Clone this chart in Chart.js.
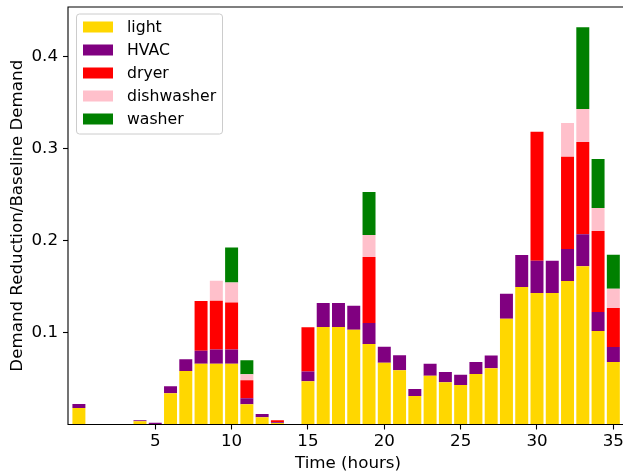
<!DOCTYPE html>
<html><head><meta charset="utf-8">
<script src="https://cdn.jsdelivr.net/npm/chart.js@4/dist/chart.umd.min.js"></script>
<style>html,body{margin:0;padding:0;overflow:hidden;background:#fff}#wrap{width:630px;height:472px;position:relative}</style>
</head><body><div id="wrap"><canvas id="c" width="630" height="472"></canvas></div>
<script>
const hours = [0,1,2,3,4,5,6,7,8,9,10,11,12,13,14,15,16,17,18,19,20,21,22,23,24,25,26,27,28,29,30,31,32,33,34,35];
const light = [0.018,0,0,0,0.0035,0,0.034,0.058,0.066,0.066,0.066,0.022,0.008,0.0015,0,0.047,0.106,0.106,0.103,0.0875,0.067,0.059,0.031,0.053,0.046,0.043,0.055,0.061,0.115,0.1495,0.143,0.143,0.156,0.172,0.1015,0.068];
const hvac = [0.0043,0,0,0,0.001,0.002,0.0076,0.013,0.014,0.0155,0.0155,0.0065,0.0033,0.001,0,0.0107,0.026,0.026,0.026,0.0228,0.0174,0.0163,0.0076,0.013,0.011,0.011,0.013,0.014,0.027,0.0347,0.0348,0.0348,0.0348,0.0348,0.0207,0.0163];
const dryer = [0,0,0,0,0,0,0,0,0.0543,0.053,0.051,0.0196,0,0.002,0,0.048,0,0,0,0.0717,0,0,0,0,0,0,0,0,0,0,0.1403,0,0.1,0.1,0.088,0.0424];
const dishwasher = [0,0,0,0,0,0,0,0,0,0.0217,0.0218,0.0065,0,0,0,0,0,0,0,0.024,0,0,0,0,0,0,0,0,0,0,0,0,0.0369,0.0359,0.025,0.0207];
const washer = [0,0,0,0,0,0,0,0,0,0,0.038,0.0152,0,0,0,0,0,0,0,0.0467,0,0,0,0,0,0,0,0,0,0,0,0,0,0.089,0.0533,0.037];
const seriesNames = ['light','HVAC','dryer','dishwasher','washer'];
const seriesValues = [light, hvac, dryer, dishwasher, washer];
const seriesColors = ['#FFD700','#800080','#FF0000','#FFC0CB','#008000'];
const xTicks = [5,10,15,20,25,30,35];
const yTicks = [0.1,0.2,0.3,0.4];

const FONT = 'DejaVu Sans';
const FS = 16.7;
const LFS = 15.7;

const datasets = seriesNames.map((n,i)=>({
  label:n,
  data: hours.map((h,j)=>({x:h,y:seriesValues[i][j]})),
  backgroundColor: seriesColors[i],
  borderWidth:0,
  barPercentage:0.85,
  categoryPercentage:1
}));

const framePlugin = {
  id:'frame',
  afterDraw(chart){
    const ctx = chart.ctx, a = chart.chartArea;
    ctx.save();
    ctx.strokeStyle = '#000'; ctx.lineWidth = 1.1;
    ctx.beginPath(); ctx.moveTo(a.right+10, a.top); ctx.lineTo(a.left, a.top); ctx.lineTo(a.left, a.bottom); ctx.lineTo(a.right+10, a.bottom); ctx.stroke();
    // legend
    const bx=76.5, by=14, bw=146, bh=120, r=3;
    ctx.beginPath();
    ctx.moveTo(bx+r,by); ctx.lineTo(bx+bw-r,by); ctx.arcTo(bx+bw,by,bx+bw,by+r,r);
    ctx.lineTo(bx+bw,by+bh-r); ctx.arcTo(bx+bw,by+bh,bx+bw-r,by+bh,r);
    ctx.lineTo(bx+r,by+bh); ctx.arcTo(bx,by+bh,bx,by+bh-r,r);
    ctx.lineTo(bx,by+r); ctx.arcTo(bx,by,bx+r,by,r); ctx.closePath();
    ctx.fillStyle='rgba(255,255,255,0.8)'; ctx.fill();
    ctx.strokeStyle='#cccccc'; ctx.lineWidth=1; ctx.stroke();
    ctx.font = LFS+'px "'+FONT+'"'; ctx.textBaseline='middle'; ctx.textAlign='left';
    chart.data.datasets.forEach((d,i)=>{
      const cy = 27 + 23*i;
      ctx.fillStyle = d.backgroundColor;
      ctx.fillRect(83, cy-5.5, 30, 11);
      ctx.fillStyle = '#000';
      ctx.fillText(d.label, 127, cy+1);
    });
    ctx.restore();
  }
};

new Chart(document.getElementById('c'), {
  type:'bar',
  data:{datasets},
  options:{
    responsive:false, animation:false, devicePixelRatio:1,
    layout:{padding:{top:7,right:2,left:0,bottom:0}},
    plugins:{legend:{display:false}, tooltip:{enabled:false}},
    scales:{
      x:{
        type:'linear', stacked:true, min:-0.714, max:35.96, offset:false,
        afterBuildTicks:s=>{s.ticks = xTicks.map(v=>({value:v}));},
        afterFit:s=>{s.height = 47.5; s.paddingLeft = 0; s.paddingRight = 0;},
        grid:{display:true, offset:false, drawOnChartArea:false, drawTicks:true, tickLength:5, tickColor:'#000', tickWidth:1.1},
        border:{display:false},
        ticks:{color:'#000', font:{family:FONT,size:FS}, padding:2, maxRotation:0, autoSkip:false, callback:v=>String(v)},
        title:{display:true, text:'Time (hours)', color:'#000', font:{family:FONT,size:FS,lineHeight:1.05}, padding:{top:0,bottom:0}}
      },
      y:{
        type:'linear', stacked:true, min:0, max:0.4536,
        afterBuildTicks:s=>{s.ticks = yTicks.map(v=>({value:v}));},
        afterFit:s=>{s.width = 68; s.paddingTop = 0; s.paddingBottom = 0;},
        grid:{display:true, offset:false, drawOnChartArea:false, drawTicks:true, tickLength:5, tickColor:'#000', tickWidth:1.1},
        border:{display:false},
        ticks:{color:'#000', font:{family:FONT,size:FS}, padding:5, callback:v=>Number(v).toFixed(1)},
        title:{display:true, text:'Demand Reduction/Baseline Demand', color:'#000', font:{family:FONT,size:FS}, padding:{top:8,bottom:0}}
      }
    }
  },
  plugins:[framePlugin]
});
</script></body></html>
